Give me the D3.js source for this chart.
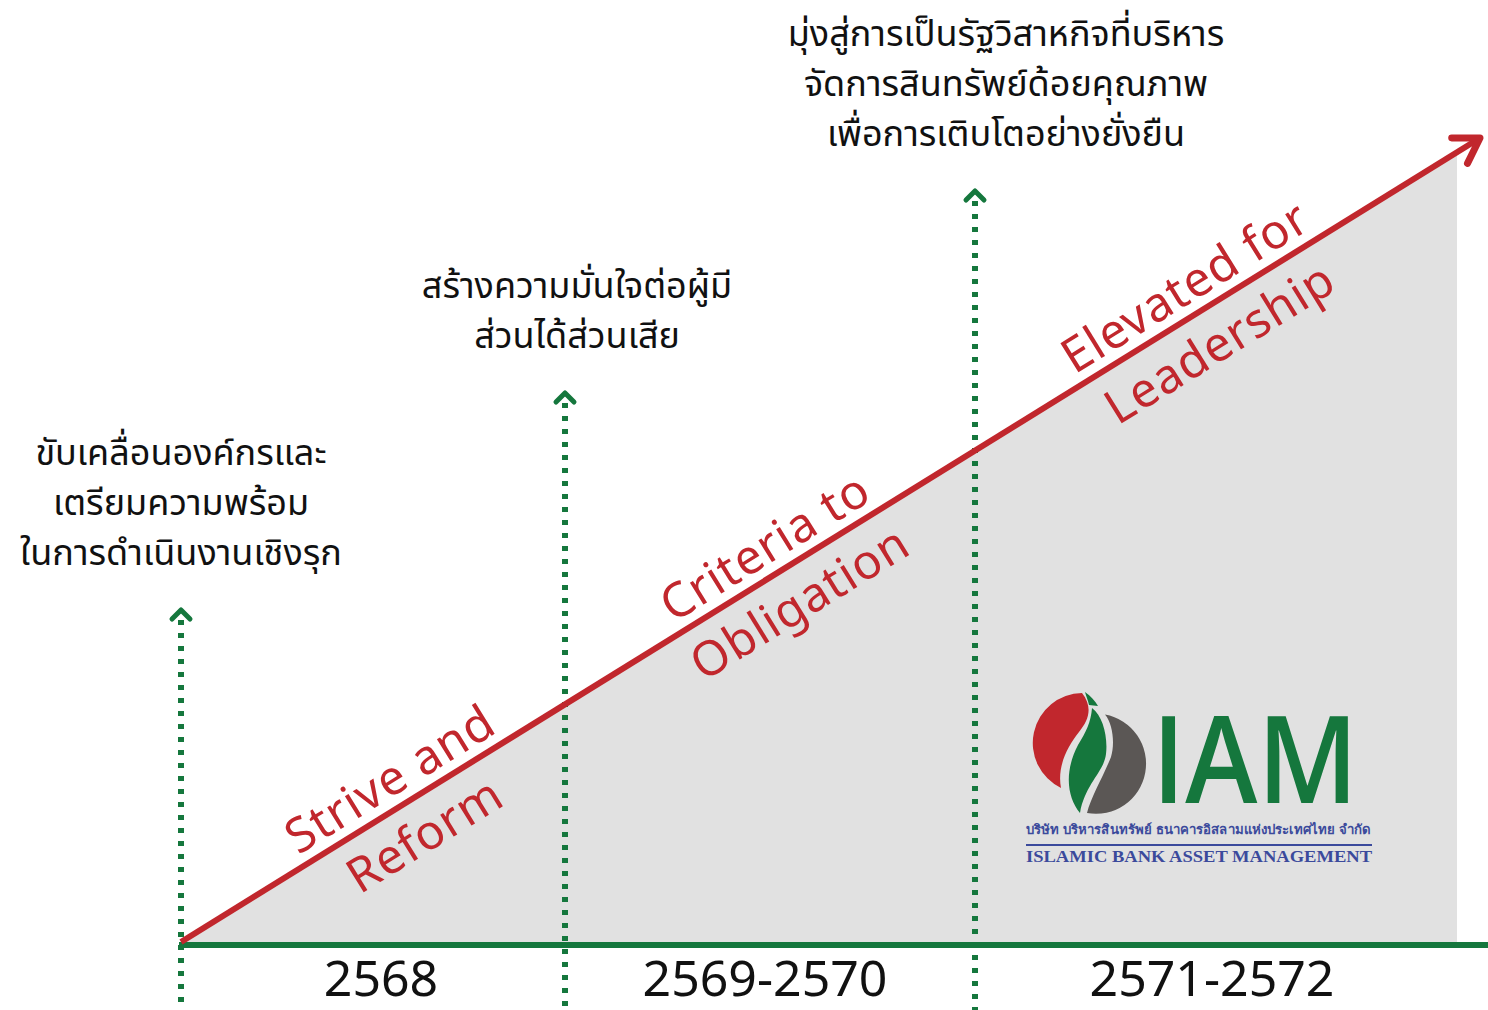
<!DOCTYPE html>
<html>
<head>
<meta charset="utf-8">
<script src="https://cdn.jsdelivr.net/npm/d3@7"></script>
<style>
  body { margin: 0; background: #fff; }
  svg { display: block; }
  .goal { font-family: "Noto Sans", "Noto Sans Thai", sans-serif; font-size: 36px; fill: #111; }
  .year { font-family: "Noto Sans", sans-serif; font-size: 50px; fill: #111; }
  .phase { font-family: "Noto Sans", sans-serif; font-size: 48px; fill: #c1272d; letter-spacing: 1px; }
</style>
</head>
<body>
<svg width="1488" height="1010"></svg>
<script>
// Data
const years = ['2568', '2569-2570', '2571-2572'];
const phaseTop = ['Strive and', 'Criteria to', 'Elevated for'];
const phaseBottom = ['Reform', 'Obligation', 'Leadership'];
const goals = [
  ['ขับเคลื่อนองค์กรและ', 'เตรียมความพร้อม', 'ในการดำเนินงานเชิงรุก'],
  ['สร้างความมั่นใจต่อผู้มี', 'ส่วนได้ส่วนเสีย'],
  ['มุ่งสู่การเป็นรัฐวิสาหกิจที่บริหาร', 'จัดการสินทรัพย์ด้อยคุณภาพ', 'เพื่อการเติบโตอย่างยั่งยืน']
];
const phaseIndex = [0, 1, 2]; // start of each phase on the timeline

// Layout
const red = '#c1272d', green = '#15773d', gray = '#e1e1e1';
const baseY = 945;
const arrowTop = [607, 390, 188];     // tip of each milestone arrow
const goalShift = [0, 12, 31];        // horizontal nudge of goal text
const yearShift = [8, -5, -4];        // horizontal nudge of year labels
const phaseCenter = [405, 780, 1200]; // along-line center of phase labels

const svg = d3.select('svg');

// timeline scale: phase boundaries
const x = d3.scaleLinear()
  .domain([0, 1, 2, 3])
  .range([181, 565, 975, 1457]);

// progress line: rises steadily with x
const lineEnd = 1480;
const y = d3.scaleLinear()
  .domain([x(0), lineEnd])
  .range([942, 138]);
const angle = Math.atan2(y(x(0)) - y(lineEnd), lineEnd - x(0)) * 180 / Math.PI;

// grey area under the progress line
svg.append('path')
  .attr('d', d3.area().x(d => d).y0(baseY).y1(d => y(d))([x(0), x(3)]))
  .attr('fill', gray);

// baseline
svg.append('line')
  .attr('x1', x(0) - 2).attr('x2', 1488)
  .attr('y1', baseY).attr('y2', baseY)
  .attr('stroke', green).attr('stroke-width', 6);

// dotted milestone arrows
const ms = svg.selectAll('g.ms')
  .data(phaseIndex)
  .enter()
  .append('g')
  .attr('class', 'ms');

ms.append('line')
  .attr('x1', d => x(d)).attr('x2', d => x(d))
  .attr('y1', (d, i) => arrowTop[i] + 13)
  .attr('y2', 1010)
  .attr('stroke', green)
  .attr('stroke-width', 6)
  .attr('stroke-dasharray', '5,8');

ms.append('path')
  .attr('d', (d, i) => {
    const cx = x(d), t = arrowTop[i] + 3;
    return `M${cx - 9},${t + 9} L${cx},${t} L${cx + 9},${t + 9}`;
  })
  .attr('fill', 'none')
  .attr('stroke', green)
  .attr('stroke-width', 5)
  .attr('stroke-linecap', 'round')
  .attr('stroke-linejoin', 'round');

// goal texts above each arrow
ms.append('text')
  .attr('class', 'goal')
  .attr('text-anchor', 'middle')
  .each(function (d, i) {
    const lines = goals[i];
    const n = lines.length;
    d3.select(this).selectAll('tspan')
      .data(lines)
      .enter()
      .append('tspan')
      .attr('x', x(d) + goalShift[i])
      .attr('y', (l, j) => arrowTop[i] - 42 - (n - 1 - j) * 50)
      .text(l => l);
  });

// red progress arrow
svg.append('line')
  .attr('x1', x(0)).attr('y1', y(x(0)))
  .attr('x2', lineEnd).attr('y2', y(lineEnd))
  .attr('stroke', red).attr('stroke-width', 6);

svg.append('path')
  .attr('transform', `translate(${lineEnd},${y(lineEnd)}) rotate(${-angle})`)
  .attr('d', 'M-24,-15 L0,0 L-24,15')
  .attr('fill', 'none')
  .attr('stroke', red)
  .attr('stroke-width', 7)
  .attr('stroke-linecap', 'round')
  .attr('stroke-linejoin', 'round');

// phase labels along the line
const phases = svg.selectAll('g.phase-g')
  .data(phaseIndex)
  .enter()
  .append('g')
  .attr('class', 'phase-g')
  .attr('transform', (d, i) => `translate(${phaseCenter[i]},${y(phaseCenter[i])}) rotate(${-angle})`);

phases.append('text')
  .attr('class', 'phase')
  .attr('text-anchor', 'middle')
  .attr('y', -12)
  .text((d, i) => phaseTop[i]);

phases.append('text')
  .attr('class', 'phase')
  .attr('text-anchor', 'middle')
  .attr('y', 54)
  .text((d, i) => phaseBottom[i]);

// year labels under the baseline
svg.selectAll('text.year')
  .data(years)
  .enter()
  .append('text')
  .attr('class', 'year')
  .attr('text-anchor', 'middle')
  .attr('x', (d, i) => (x(i) + x(i + 1)) / 2 + yearShift[i])
  .attr('y', 996)
  .text(d => d);

// logo: red and grey discs split by a green leaf
const logo = svg.append('g').attr('transform', 'translate(1089,752)');
logo.append('path')
  .attr('d', 'M-7,-59 A50,50 0 0 0 -28,36 C-32,15 -22,-5 -10,-20 C0,-32 4,-45 -7,-59 Z')
  .attr('fill', red);
logo.append('path')
  .attr('d', 'M16,-37.5 A50,50 0 0 1 -2,61 C2,45 14,25 22,5 C26,-8 24,-28 16,-37.5 Z')
  .attr('fill', '#5b5755');
logo.append('path')
  .attr('d', 'M3,-44 C14,-36 19,-15 17,2 C15,20 -4,32 -9,61 C-22,45 -25,20 -11,-7 C-3,-20 2,-30 3,-44 Z')
  .attr('fill', green);
logo.append('path')
  .attr('d', 'M-4,-60 C2,-56 6,-51 9,-46 L0,-47 C-1,-52 -3,-56 -4,-60 Z')
  .attr('fill', green);
logo.append('text')
  .attr('x', 63).attr('y', 51)
  .attr('textLength', 206)
  .attr('lengthAdjust', 'spacingAndGlyphs')
  .style('font-family', '"Open Sans", sans-serif')
  .style('font-weight', 600)
  .style('font-size', '122px')
  .attr('fill', green)
  .text('IAM');
logo.append('text')
  .attr('x', -63).attr('y', 82)
  .attr('textLength', 344)
  .attr('lengthAdjust', 'spacingAndGlyphs')
  .style('font-family', '"Noto Sans", sans-serif')
  .style('font-size', '13px')
  .style('font-weight', 600)
  .attr('fill', '#3b4a9c')
  .text('บริษัท บริหารสินทรัพย์ ธนาคารอิสลามแห่งประเทศไทย จำกัด');
logo.append('line')
  .attr('x1', -63).attr('x2', 283)
  .attr('y1', 93).attr('y2', 93)
  .attr('stroke', '#3b4a9c').attr('stroke-width', 2);
logo.append('text')
  .attr('x', -63).attr('y', 110)
  .attr('textLength', 346)
  .attr('lengthAdjust', 'spacingAndGlyphs')
  .style('font-family', '"Liberation Serif", serif')
  .style('font-weight', 700)
  .style('font-size', '17px')
  .attr('fill', '#3b4a9c')
  .text('ISLAMIC BANK ASSET MANAGEMENT');
</script>
</body>
</html>
